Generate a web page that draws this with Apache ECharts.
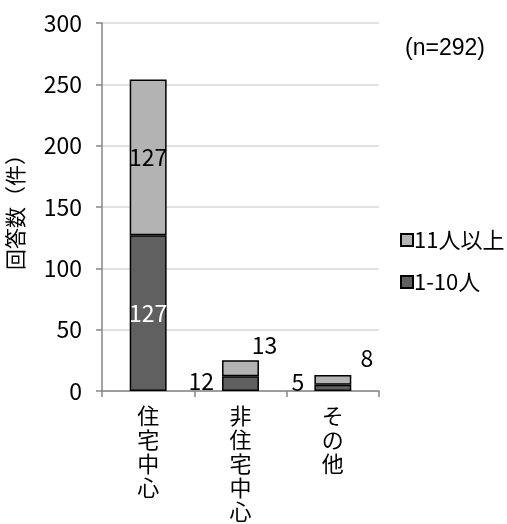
<!DOCTYPE html>
<html><head><meta charset="utf-8">
<script src="https://cdn.jsdelivr.net/npm/echarts@6/dist/echarts.min.js"></script>
<style>html,body{margin:0;padding:0;background:#fff}#c{width:507px;height:524px}</style>
</head><body><div id="c"></div>
<script>
const categories = ['住宅中心', '非住宅中心', 'その他'];
const small = [127, 12, 5];     // 1-10人
const large = [127, 13, 8];     // 11人以上
const seriesNames = ['1-10人', '11人以上'];
const yTicks = [0, 50, 100, 150, 200, 250, 300];
const noteText = '(n=292)';

const FONT = '"Noto Sans CJK JP", "Noto Sans", sans-serif';
const smallLabels = [
  {position: 'inside', color: '#fff'},
  {position: 'left', distance: 10, color: '#000', offset: [2, -2]},
  {position: 'left', distance: 11, color: '#000', offset: [1, -6]}
];
const largeLabels = [
  {position: 'inside', color: '#000'},
  {position: 'top', distance: 4, color: '#000', offset: [24, 0]},
  {position: 'top', distance: 4, color: '#000', offset: [34, -1]}
];
const chart = echarts.init(document.getElementById('c'));
chart.setOption({
  animation: false,
  textStyle: {fontFamily: FONT},
  grid: {left: 102, top: 23, right: 128, bottom: 133, outerBoundsMode: 'none', containLabel: false},
  graphic: [{type: 'text', left: 405, top: 37, style: {text: noteText, fontSize: 23, fontFamily: '"Liberation Sans", Arial, sans-serif', fill: '#000'}}],
  legend: {
    orient: 'vertical', left: 395, top: 224, itemWidth: 12, itemHeight: 12, itemGap: 20,
    data: [seriesNames[1], seriesNames[0]],
    textStyle: {fontSize: 22, fontFamily: FONT, color: '#000', padding: [0, 0, 0, -4]},
    icon: 'rect'
  },
  xAxis: {
    type: 'category', data: categories,
    axisLine: {lineStyle: {color: '#868686', width: 1.5}},
    axisTick: {show: true, length: 6, lineStyle: {color: '#868686', width: 1.5}},
    axisLabel: {
      interval: 0, margin: 13, fontSize: 22, lineHeight: 24, color: '#000', fontFamily: FONT,
      formatter: v => v.split('').join('\n'), verticalAlign: 'top'
    }
  },
  yAxis: {
    type: 'value', min: yTicks[0], max: yTicks[yTicks.length - 1], interval: 50,
    name: '回答数（件）', nameLocation: 'middle', nameGap: 76,
    nameTextStyle: {fontSize: 21, color: '#000', fontFamily: FONT},
    axisLine: {show: true, lineStyle: {color: '#868686', width: 1.5}},
    axisTick: {show: true, length: 6, lineStyle: {color: '#868686', width: 1.5}},
    axisLabel: {margin: 20, fontSize: 23, color: '#000', fontFamily: FONT},
    splitLine: {lineStyle: {color: '#d9d9d9', width: 1.5}}
  },
  series: [
    {
      name: seriesNames[0], type: 'bar', stack: 's', barWidth: '40%',
      itemStyle: {color: '#606060', borderColor: '#000', borderWidth: 1.5},
      label: {show: true, fontSize: 23, fontFamily: FONT},
      data: small.map((v, i) => ({value: v, label: smallLabels[i]}))
    },
    {
      name: seriesNames[1], type: 'bar', stack: 's', barWidth: '40%',
      itemStyle: {color: '#b3b3b3', borderColor: '#000', borderWidth: 1.5},
      label: {show: true, fontSize: 23, fontFamily: FONT},
      data: large.map((v, i) => ({value: v, label: largeLabels[i]}))
    }
  ]
});
</script></body></html>
